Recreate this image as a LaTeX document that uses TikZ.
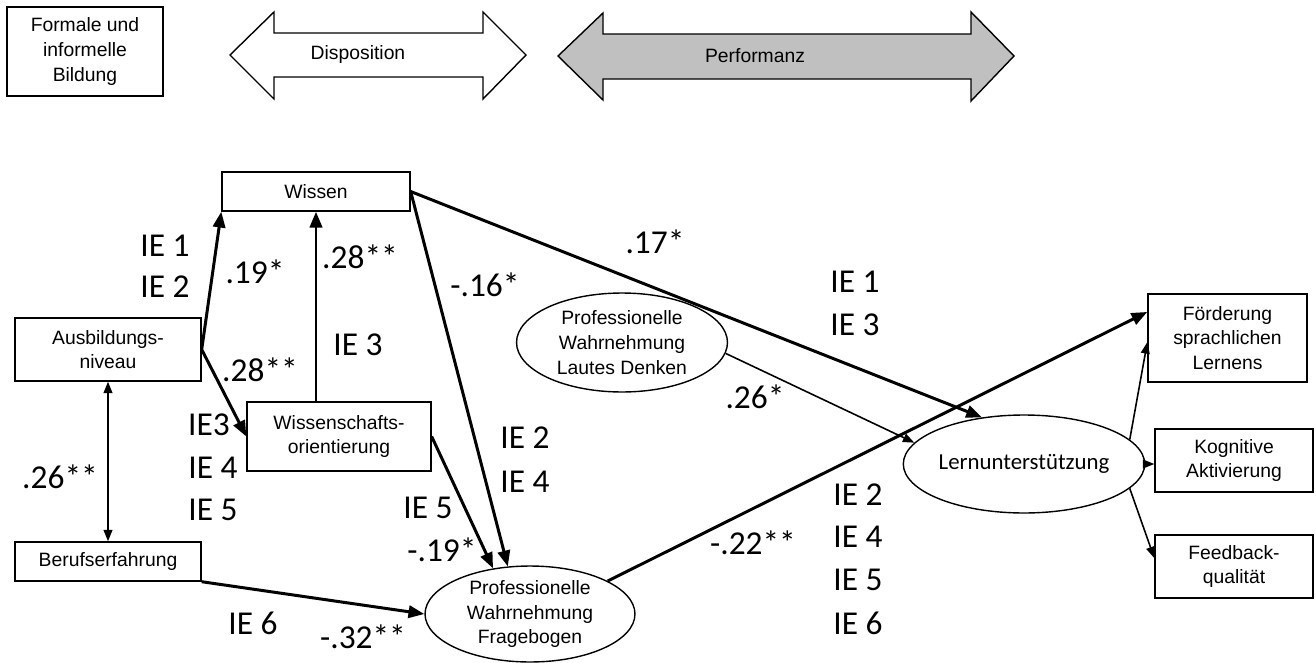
\documentclass[tikz,border=0pt]{standalone}
\usepackage{fontspec}
\setmainfont{Liberation Sans}
\newfontfamily\calib{Carlito}
\usetikzlibrary{arrows.meta,shapes.geometric}
\definecolor{perfgray}{RGB}{192,192,192}

\begin{document}
\begin{tikzpicture}[x=0.02cm,y=-0.02cm,
    box/.style={draw,line width=0.8pt,inner sep=0pt,align=center,font=\fontsize{11}{14}\selectfont},
    oval/.style={draw,ellipse,line width=0.8pt,inner xsep=0pt,inner ysep=-3pt,align=center,font=\fontsize{11}{14}\selectfont},
    bigarr/.style={line width=1.7pt,-{Triangle[length=9pt,width=7pt]}},
    smallarr/.style={line width=0.9pt,-{Triangle[length=6.5pt,width=5pt]}},
    botharr/.style={line width=0.9pt,{Triangle[length=6.5pt,width=5pt]}-{Triangle[length=6.5pt,width=5pt]}},
    coef/.style={font=\calib\fontsize{19}{22}\selectfont,inner sep=0pt}]
    \useasboundingbox (0,0) rectangle (1316,663);
    \draw[line width=0.8pt] (230,55) -- (274,12) -- (274,33) -- (483,33) -- (483,12) -- (526,55)
        -- (483,99) -- (483,77) -- (274,77) -- (274,99) -- cycle;
    \draw[line width=0.8pt,fill=perfgray] (558,56) -- (603,13) -- (603,34) -- (971,34) -- (971,12) -- (1014,56)
        -- (971,101) -- (971,79) -- (603,79) -- (603,100) -- cycle;
    \node[font=\fontsize{11}{14}\selectfont] (disp) at (358,55) {Disposition};
    \node[font=\fontsize{11}{14}\selectfont] (perf) at (755,56) {Performanz};
    \node[box,minimum width=3.12cm,minimum height=1.78cm] (bild) at (85,51.5) {Formale und\\informelle\\Bildung};
    \node[box,minimum width=3.76cm,minimum height=0.78cm] (wiss) at (316,191.5) {Wissen};
    \node[box,minimum width=3.72cm,minimum height=1.26cm] (ausb) at (108,349.5) {Ausbildungs-\\niveau};
    \node[box,minimum width=3.68cm,minimum height=1.38cm] (orient) at (339,436.5) {Wissenschafts-\\orientierung};
    \node[box,minimum width=3.72cm,minimum height=0.78cm] (beruf) at (108,561.5) {Berufserfahrung};
    \node[oval,minimum width=4.2cm,minimum height=1.92cm] (pwf) at (530,614) {Professionelle\\Wahrnehmung\\Fragebogen};
    \node[oval,minimum width=4.22cm,minimum height=1.98cm] (pwld) at (622,342.5) {Professionelle\\Wahrnehmung\\Lautes Denken};
    \node[oval,minimum width=4.24cm,minimum height=1.96cm,font=\calib\fontsize{13}{15}\selectfont] (lern) at (1024,464) {Lernunterstützung};
    \node[box,minimum width=3.18cm,minimum height=1.76cm] (foerd) at (1227.5,338) {Förderung\\sprachlichen\\Lernens};
    \node[box,minimum width=3.16cm,minimum height=1.26cm] (kogn) at (1234,460.5) {Kognitive\\Aktivierung};
    \node[box,minimum width=3.16cm,minimum height=1.26cm] (feed) at (1234,566.5) {Feedback-\\qualität};

    \draw[bigarr] (ausb.east) -- (wiss.south west);
    \draw[bigarr] (ausb.east) -- (orient.west);
    \draw[bigarr] (orient.north -| wiss.south) -- (wiss.south);
    \draw[botharr] (ausb.south) -- (beruf.north);
    \draw[bigarr] (beruf.south east) -- (pwf.west);
    \draw[bigarr] (orient.east) -- (pwf.129);
    \draw[bigarr] (wiss.east) -- (pwf.115);
    \draw[bigarr] (wiss.east) -- (lern.132);
    \draw[smallarr] (pwld.-6) -- (lern.169);
    \draw[bigarr] (pwf.23) -- (foerd.162);
    \draw[smallarr] (lern.13) -- (foerd.183);
    \draw[smallarr] (lern.east) -- (lern.east -| kogn.west);
    \draw[smallarr] (lern.-13) -- (feed.174);

    \foreach \lab/\x/\y [count=\i] in {IE 1/165/246, IE 2/165/287, .19*/255/272, .28**/360/257,
        IE 3/358/345, .28**/260/370, IE3/209/425, IE 4/213/468, IE 5/213/510, .26**/60/477,
        IE 6/253/623, -.32**/363/637, .17*/655/242, -.16*/485/285, IE 1/855/282, IE 3/855/325,
        .26*/755/397, IE 2/525/438, IE 4/525/482, IE 5/428/508, -.19*/442/550, -.22**/753/543,
        IE 2/858/495, IE 4/858/537, IE 5/858/580, IE 6/858/623}
        \node[coef] (lab\i) at (\x,\y) {\lab};
\end{tikzpicture}
\end{document}
